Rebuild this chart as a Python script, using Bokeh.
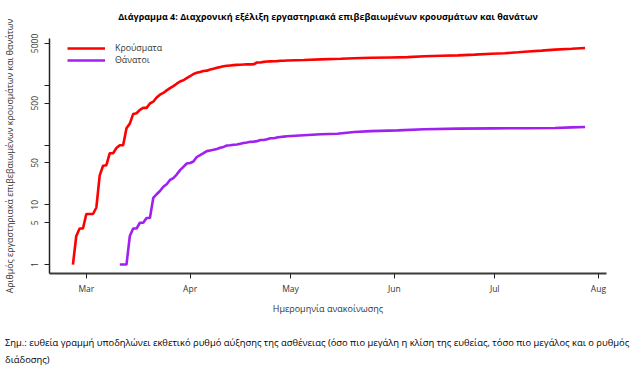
import pandas as pd
from bokeh.plotting import figure
from bokeh.layouts import column
from bokeh.models import (Range1d, FixedTicker, DatetimeTickFormatter, Legend, LegendItem,
                          LinearAxis, Div)
from bokeh.embed import file_html
from bokeh.resources import INLINE

# ---- data ----
case_dates = [
    "2020-02-26", "2020-02-27", "2020-02-28", "2020-02-29", "2020-03-01", "2020-03-02",
    "2020-03-03", "2020-03-04", "2020-03-05", "2020-03-06", "2020-03-07", "2020-03-08",
    "2020-03-09", "2020-03-10", "2020-03-11", "2020-03-12", "2020-03-13", "2020-03-14",
    "2020-03-15", "2020-03-16", "2020-03-17", "2020-03-18", "2020-03-19", "2020-03-20",
    "2020-03-21", "2020-03-22", "2020-03-23", "2020-03-24", "2020-03-25", "2020-03-26",
    "2020-03-27", "2020-03-28", "2020-03-29", "2020-03-30", "2020-03-31", "2020-04-01",
    "2020-04-02", "2020-04-03", "2020-04-04", "2020-04-05", "2020-04-06", "2020-04-07",
    "2020-04-08", "2020-04-09", "2020-04-10", "2020-04-11", "2020-04-12", "2020-04-13",
    "2020-04-14", "2020-04-15", "2020-04-16", "2020-04-17", "2020-04-18", "2020-04-19",
    "2020-04-20", "2020-04-21", "2020-04-22", "2020-04-23", "2020-04-24", "2020-04-25",
    "2020-04-26", "2020-04-27", "2020-04-28", "2020-04-29", "2020-04-30", "2020-05-05",
    "2020-05-10", "2020-05-16", "2020-05-20", "2020-05-25", "2020-05-31", "2020-06-05",
    "2020-06-10", "2020-06-15", "2020-06-20", "2020-06-25", "2020-06-30", "2020-07-04",
    "2020-07-08", "2020-07-11", "2020-07-15", "2020-07-19", "2020-07-24", "2020-07-28",
]
case_values = [
    1, 3, 4, 4, 7, 7,
    7, 9, 31, 45, 46, 73,
    73, 89, 99, 99, 190, 228,
    331, 340, 387, 418, 418, 495,
    530, 624, 695, 743, 821, 892,
    966, 1061, 1156, 1212, 1314, 1415,
    1544, 1613, 1673, 1735, 1755, 1832,
    1884, 1955, 2011, 2081, 2114, 2145,
    2170, 2192, 2207, 2224, 2235, 2235,
    2245, 2401, 2408, 2463, 2490, 2506,
    2517, 2534, 2566, 2576, 2591, 2642,
    2710, 2780, 2834, 2878, 2917, 2952,
    3049, 3121, 3160, 3250, 3360, 3430,
    3560, 3680, 3800, 3940, 4077, 4200,
]

death_dates = [
    "2020-03-11", "2020-03-12", "2020-03-13", "2020-03-14", "2020-03-15", "2020-03-16",
    "2020-03-17", "2020-03-18", "2020-03-19", "2020-03-20", "2020-03-21", "2020-03-22",
    "2020-03-23", "2020-03-24", "2020-03-25", "2020-03-26", "2020-03-27", "2020-03-28",
    "2020-03-29", "2020-03-30", "2020-03-31", "2020-04-01", "2020-04-02", "2020-04-03",
    "2020-04-04", "2020-04-05", "2020-04-06", "2020-04-07", "2020-04-08", "2020-04-09",
    "2020-04-10", "2020-04-11", "2020-04-12", "2020-04-13", "2020-04-14", "2020-04-15",
    "2020-04-16", "2020-04-17", "2020-04-18", "2020-04-19", "2020-04-20", "2020-04-21",
    "2020-04-22", "2020-04-23", "2020-04-24", "2020-04-25", "2020-04-26", "2020-04-27",
    "2020-04-28", "2020-04-29", "2020-04-30", "2020-05-05", "2020-05-10", "2020-05-15",
    "2020-05-20", "2020-05-25", "2020-06-02", "2020-06-10", "2020-06-20", "2020-07-01",
    "2020-07-10", "2020-07-19", "2020-07-24", "2020-07-28",
]
death_values = [
    1, 1, 1, 3, 4, 4,
    5, 5, 6, 6, 13, 15,
    17, 20, 22, 26, 28, 32,
    38, 43, 49, 50, 53, 63,
    68, 73, 79, 81, 83, 86,
    90, 93, 98, 99, 101, 102,
    105, 108, 110, 113, 114, 116,
    121, 121, 125, 130, 130, 134,
    136, 138, 140, 146, 151, 154,
    165, 171, 176, 183, 188, 190,
    191, 193, 197, 200,
]

month_ticks = ["2020-03-01", "2020-04-01", "2020-05-01", "2020-06-01", "2020-07-01", "2020-08-01"]
y_ticks = [1, 5, 10, 50, 100, 500, 1000, 5000]
y_tick_labels = ["1", "5", "10", "50", "", "500", "", "5000"]

title_text = "Διάγραμμα 4: Διαχρονική εξέλιξη εργαστηριακά επιβεβαιωμένων κρουσμάτων και θανάτων"
x_label = "Ημερομηνία ανακοίνωσης"
y_label = "Αριθμός εργαστηριακά επιβεβαιωμένων κρουσμάτων και θανάτων"
note_lines = [
    "Σημ.: ευθεία γραμμή υποδηλώνει εκθετικό ρυθμό αύξησης της ασθένειας (όσο πιο μεγάλη η κλίση της ευθείας, τόσο πιο μεγάλος και ο ρυθμός",
    "διάδοσης)",
]
series_names = ["Κρούσματα", "Θάνατοι"]

FONT = "Open Sans"
TXT = "#333333"
W = 641

cx = pd.to_datetime(case_dates)
dx = pd.to_datetime(death_dates)
x_start = pd.Timestamp("2020-03-01") - pd.Timedelta(days=11.0)
x_end = pd.Timestamp("2020-03-01") + pd.Timedelta(days=155.4)

FH = 235
p = figure(width=W, height=323, x_axis_type="datetime", y_axis_type="log",
           x_range=Range1d(x_start, x_end), y_range=Range1d(0.708, 6055),
           output_backend="svg", toolbar_location=None,
           min_border_left=47, min_border_right=35, min_border_top=38, min_border_bottom=50)
p.outline_line_color = None
p.xgrid.grid_line_color = None
p.ygrid.grid_line_color = None
p.background_fill_color = "white"
p.border_fill_color = "white"

xa = p.below[0]
ya = p.left[0]

r1 = p.line(cx, case_values, line_color="#FF0000", line_width=2.6)
r2 = p.line(dx, death_values, line_color="#A020F0", line_width=2.6)

legend = Legend(items=[LegendItem(label=series_names[0], renderers=[r1]),
                       LegendItem(label=series_names[1], renderers=[r2])],
                location=(18, FH - 4 - 24), margin=0, padding=0, spacing=0,
                glyph_width=38, glyph_height=12, label_height=12, label_standoff=10,
                border_line_color=None, background_fill_alpha=0,
                label_text_font=FONT, label_text_font_size="8.8px", label_text_color=TXT)
p.add_layout(legend)

# title, drawn as the label of a tick-less axis above the frame
tax = LinearAxis(ticker=FixedTicker(ticks=[]), axis_label=title_text,
                 axis_line_color=None, major_tick_line_color=None, minor_tick_line_color=None,
                 major_tick_out=0, major_tick_in=0, minor_tick_out=0, minor_tick_in=0,
                 major_label_text_font_size="0px", major_label_standoff=0,
                 axis_label_standoff=16, axis_label_text_font=FONT,
                 axis_label_text_font_size="9px", axis_label_text_font_style="bold",
                 axis_label_text_color="black")
p.add_layout(tax, "above")

xa.ticker = FixedTicker(ticks=[pd.Timestamp(d).value / 1e6 for d in month_ticks])
xa.formatter = DatetimeTickFormatter(months="%b", days="%b", hours="%b")
xa.axis_line_color = "#3a3a3a"
xa.axis_line_width = 2
xa.major_tick_line_color = "#222222"
xa.major_tick_out = 5
xa.major_tick_in = 0
xa.minor_tick_line_color = None
xa.major_label_standoff = 4
xa.major_label_text_font = FONT
xa.major_label_text_font_size = "8.5px"
xa.major_label_text_color = TXT
xa.axis_label = x_label
xa.axis_label_standoff = 5
xa.axis_label_text_font = FONT
xa.axis_label_text_font_size = "9px"
xa.axis_label_text_font_style = "normal"
xa.axis_label_text_color = TXT

ya.ticker = FixedTicker(ticks=y_ticks)
ya.major_label_overrides = {t: lab for t, lab in zip(y_ticks, y_tick_labels)}
ya.axis_line_color = "#222222"
ya.axis_line_width = 1.5
ya.major_tick_line_color = "#222222"
ya.major_tick_out = 5
ya.major_tick_in = 0
ya.minor_tick_line_color = None
ya.major_label_orientation = "vertical"
ya.major_label_standoff = 6
ya.major_label_text_font = FONT
ya.major_label_text_font_size = "8.5px"
ya.major_label_text_color = TXT
ya.axis_label = y_label
ya.axis_label_standoff = 13
ya.axis_label_text_font = FONT
ya.axis_label_text_font_size = "8.8px"
ya.axis_label_text_font_style = "normal"
ya.axis_label_text_color = TXT

# ---- note below the plot ----
line_style = "position:absolute;left:5px;white-space:nowrap;line-height:12px;"
note_html = (
    f'<div style="position:relative;width:{W}px;height:64px;font-family:\'{FONT}\';'
    'font-size:9.4px;color:black;">'
    f'<div style="{line_style}top:14px;">{note_lines[0]}</div>'
    f'<div style="{line_style}top:31px;">{note_lines[1]}</div>'
    '</div>'
)
note = Div(text=note_html, width=W, height=64, margin=(0, 0, 0, 0))

layout = column(p, note, spacing=0)
open("out.html", "w").write(file_html(layout, INLINE))
